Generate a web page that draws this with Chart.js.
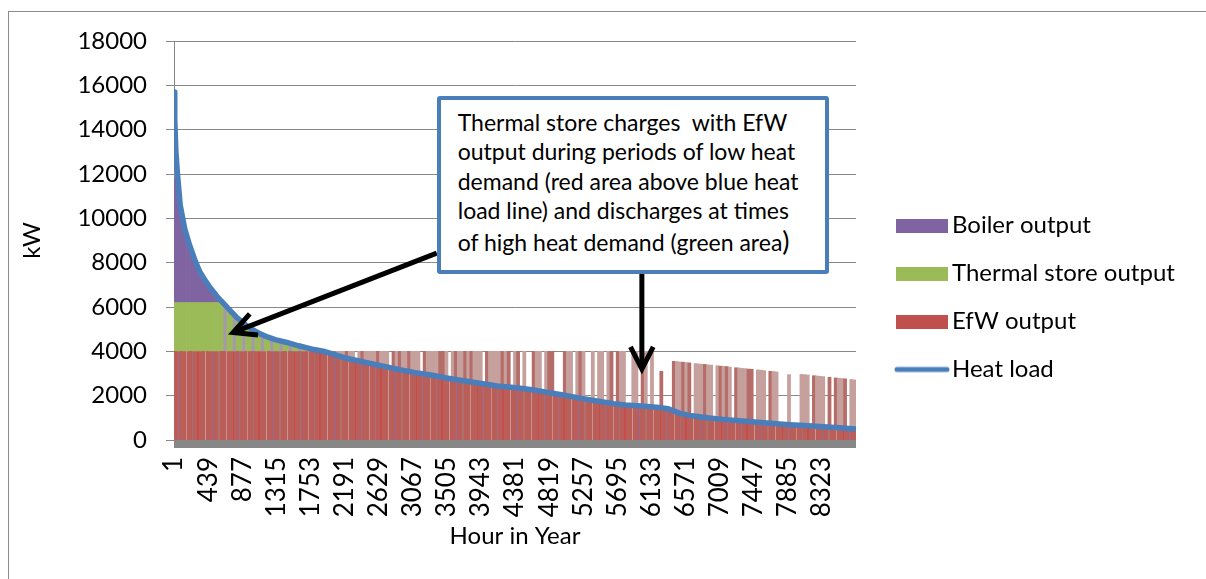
<!DOCTYPE html>
<html>
<head>
<meta charset="utf-8">
<title>Heat load duration curve</title>
<script src="https://cdn.jsdelivr.net/npm/chart.js@4.4.1/dist/chart.umd.min.js"></script>
<style>
  html, body { margin: 0; padding: 0; width: 1206px; height: 579px; overflow: hidden; background: #fff; }
  #frame { position: absolute; left: 8px; top: 11px; width: 1300px; height: 700px; border: 1px solid #8c8c8c; }
  #wrap { position: absolute; left: 0; top: 0; width: 1206px; height: 579px; }
  #callout {
    position: absolute; display: none; box-sizing: border-box;
    border: 4px solid #4a7ebb; border-radius: 3px; background: #fff;
    font-family: Lato, sans-serif; font-size: 23px; line-height: 29.5px; color: #000;
    padding: 8px 0 0 17px; white-space: pre;
  }
  #callout .last { margin-top: 2px; }
  #callout .paren { font-size: 27px; line-height: 20px; }
</style>
</head>
<body>
<div id="frame"></div>
<div id="wrap"><canvas id="chart" width="1206" height="579"></canvas></div>
<div id="callout"><div>Thermal store charges  with EfW</div><div>output during periods of low heat</div><div>demand (red area above blue heat</div><div>load line) and discharges at times</div><div class="last">of high heat demand (green area<span class="paren">)</span></div></div>
<script>
// ---- Data (kW, hours of the year sorted by descending heat load) ----

// Hour labels shown on the horizontal axis
const tickHours = [1, 439, 877, 1315, 1753, 2191, 2629, 3067, 3505, 3943,
                   4381, 4819, 5257, 5695, 6133, 6571, 7009, 7447, 7885, 8323];

// Heat load duration curve
const loadHours = [1, 10, 25, 45, 80, 140, 200, 260, 330, 400,
                   480, 560, 640, 720, 800, 900, 1000, 1100, 1200, 1300,
                   1450, 1600, 1800, 1950, 2200, 2450, 2700, 2900, 3100, 3300,
                   3500, 3720, 3950, 4150, 4400, 4600, 4800, 5000, 5200, 5430,
                   5650, 5800, 6000, 6200, 6350, 6500, 6650, 6850, 7050, 7300,
                   7500, 7700, 7900, 8100, 8340, 8550, 8760];
const heatLoad = [15700, 14500, 13000, 12000, 10600, 9500, 8800, 8200, 7600, 7200,
                  6800, 6450, 6150, 5850, 5550, 5250, 5000, 4800, 4650, 4530,
                  4400, 4250, 4080, 3980, 3700, 3510, 3320, 3170, 3040, 2930,
                  2800, 2675, 2550, 2435, 2360, 2270, 2150, 2030, 1900, 1760,
                  1640, 1580, 1530, 1475, 1410, 1200, 1090, 1000, 930, 860,
                  800, 745, 690, 650, 600, 555, 500];

// EfW output that goes straight to the heat load (same hours as above)
const efwToLoad = [4000, 4000, 4000, 4000, 4000, 4000, 4000, 4000, 4000, 4000,
                   4000, 4000, 4000, 4000, 4000, 4000, 4000, 4000, 4000, 4000,
                   4000, 4000, 4000, 3980, 3700, 3510, 3320, 3170, 3040, 2930,
                   2800, 2675, 2550, 2435, 2360, 2270, 2150, 2030, 1900, 1760,
                   1640, 1580, 1530, 1475, 1410, 1200, 1090, 1000, 930, 860,
                   800, 745, 690, 650, 600, 555, 500];

// Hourly outputs, one bar every 40 hours
const barHours = Array.from({ length: 219 }, (_, i) => 20 + 40 * i);

// EfW output (null where it simply follows the heat load)
const efwOutput = [
  4000, 4000, 4000, 4000, 4000, 4000, 4000, 4000, 4000, 4000,
  4000, 4000, 4000, 4000, 4000, 4000, 4000, 4000, 4000, 4000,
  4000, 4000, 4000, 4000, 4000, 4000, 4000, 4000, 4000, 4000,
  4000, 4000, 4000, 4000, 4000, 4000, 4000, 4000, 4000, 4000,
  4000, 4000, 4000, 4000, 4000, 4000, 4000, 4000, 4000, 4000,
  4000, 4000, 4000, 4000, 4000, 4000, 4000, 4000, null, 4000,
  4000, 4000, 4000, 4000, 4000, 4000, 4000, 4000, 4000, null,
  4000, 4000, 4000, 4000, 4000, 4000, 4000, 4000, 4000, null,
  4000, 4000, 4000, 4000, 4000, 4000, 4000, 4000, null, 4000,
  4000, 4000, 4000, 4000, 4000, 4000, 4000, 4000, 4000, null,
  4000, 4000, 4000, 4000, 4000, 4000, 4000, 4000, null, 4000,
  4000, null, 4000, null, null, 4000, 4000, 4000, null, 4000,
  4000, 4000, null, null, null, 4000, 4000, 4000, null, 4000,
  4000, 4000, null, null, 4000, null, 4000, 4000, null, 4000,
  4000, null, 4000, 4000, 4000, null, null, 4000, 4000, null,
  4000, 4000, null, 4000, null, null, 3100, null, null, null,
  3550, 3540, 3520, 3510, 3490, 3480, null, 3450, 3430, 3420,
  3410, 3390, 3380, null, 3350, 3330, 3320, 3310, 3290, null,
  3260, 3250, 3230, 3220, 3200, 3190, null, 3160, 3150, 3130,
  null, 3100, 3090, 3070, null, null, null, 2950, null, null,
  null, 2960, 2950, 2930, null, 2900, 2890, 2870, 2860, null,
  2830, null, 2800, 2790, 2770, 2760, null, 2730, 2710
];

// Thermal store discharge (first bars only)
const storeOutput = [
  2200, 2200, 2200, 2200, 2200, 2200, 2200, 2200, 2200, 2200,
  2200, 2200, 2200, 2200, 2200, 2200, 2080, 1930, 1780, 1630,
  1490, 1370, 1250, 1150, 1050, 960, 880, 800, 740, 680,
  630, 580, 530, 495, 460, 425, 390, 350, 310, 270,
  240, 200, 160, 120, 90, 60, 40
];

// Peak boiler output (first bars only)
const boilerOutput = [5600, 5200, 4030, 3300, 2830, 2400, 2000, 1660, 1340, 1110,
                      900, 700, 510, 340, 180, 30];

// ---- Chart ----
Chart.defaults.font.family = 'Lato';
Chart.defaults.font.size = 24;
Chart.defaults.color = '#000';

const PLOT_LEFT = 174, PLOT_RIGHT = 856;
const GRID = '#888888';

// Vertical hatch texture for the dense hourly bars
function stripes(base, marks, width) {
  const c = document.createElement('canvas');
  c.width = width; c.height = 4;
  const g = c.getContext('2d');
  g.fillStyle = base; g.fillRect(0, 0, width, 4);
  marks.forEach(([x, w, col]) => { g.fillStyle = col; g.fillRect(x, 0, w, 4); });
  return g.createPattern(c, 'repeat');
}

const COLORS = {
  boiler: '#8064a2',
  store: '#9bbb59',
  storeStreak: 'rgb(166,152,172)',
  efw: '#c0504d',
  efwFill: stripes('rgb(186,94,90)', [
    [3, 1, 'rgb(202,140,136)'], [9, 1, 'rgb(168,108,122)'], [14, 2, 'rgb(196,78,74)'],
    [22, 1, 'rgb(204,150,146)'], [29, 1, 'rgb(150,106,150)'], [35, 2, 'rgb(176,112,108)'],
    [43, 1, 'rgb(205,145,140)'], [50, 1, 'rgb(196,78,74)'], [56, 1, 'rgb(160,108,140)']
  ], 61),
  efwCharge: 'rgb(197,160,156)',
  efwChargeStreak: 'rgb(182,108,104)',
  load: '#4a7ebb'
};

const pts = (xs, ys) => ys.map((v, i) => ({ x: xs[i], y: v }));

// Legend swatches: wide rectangle or thick line, offset so text sits close to the swatch
function swatch(color, kind) {
  const c = document.createElement('canvas');
  c.width = 80; c.height = 14;
  const g = c.getContext('2d');
  if (kind === 'line') {
    g.strokeStyle = color; g.lineWidth = 5; g.lineCap = 'round';
    g.beginPath(); g.moveTo(27, 7); g.lineTo(77, 7); g.stroke();
  } else {
    g.fillStyle = color; g.fillRect(26, 0, 52, 14);
  }
  return c;
}
const legendEntries = [
  { text: 'Boiler output', style: swatch(COLORS.boiler, 'rect') },
  { text: 'Thermal store output', style: swatch(COLORS.store, 'rect') },
  { text: 'EfW output', style: swatch(COLORS.efw, 'rect') },
  { text: 'Heat load', style: swatch(COLORS.load, 'line') }
];

// Gray band under the hour axis (dense tick marks)
const axisBand = {
  id: 'axisBand',
  afterDatasetsDraw(chart) {
    const { ctx, chartArea: { left, right, bottom } } = chart;
    ctx.save();
    ctx.fillStyle = '#878787';
    ctx.fillRect(left, bottom, right - left, 8);
    ctx.restore();
  }
};

// Explanatory callout and its arrows, anchored in data units
const calloutBox = { fromHour: 3375, toHour: 8410, topKW: 15540, bottomKW: 7500 };
const calloutArrows = [
  { tail: { hour: 3375, kW: 8430 }, tip: { hour: 760, kW: 4850 } },
  { tail: { hour: 6010, kW: 7500 }, tip: { hour: 6010, kW: 3200 } }
];
const callout = {
  id: 'callout',
  afterDraw(chart) {
    const { ctx, scales: { x, y } } = chart;
    const px = p => [x.getPixelForValue(p.hour), y.getPixelForValue(p.kW)];
    ctx.save();
    ctx.strokeStyle = '#000';
    ctx.lineWidth = 5;
    ctx.lineJoin = 'miter';
    ctx.lineCap = 'butt';
    calloutArrows.forEach(a => {
      const [x0, y0] = px(a.tail), [x1, y1] = px(a.tip);
      const ang = Math.atan2(y0 - y1, x0 - x1);
      const len = 25, spread = 27 * Math.PI / 180;
      ctx.beginPath();
      ctx.moveTo(x0, y0);
      ctx.lineTo(x1 + Math.cos(ang) * 3, y1 + Math.sin(ang) * 3);
      ctx.stroke();
      ctx.beginPath();
      ctx.moveTo(x1 + Math.cos(ang - spread) * len, y1 + Math.sin(ang - spread) * len);
      ctx.lineTo(x1, y1);
      ctx.lineTo(x1 + Math.cos(ang + spread) * len, y1 + Math.sin(ang + spread) * len);
      ctx.stroke();
    });
    ctx.restore();
    const l = x.getPixelForValue(calloutBox.fromHour), r = x.getPixelForValue(calloutBox.toHour);
    const t = y.getPixelForValue(calloutBox.topKW), b = y.getPixelForValue(calloutBox.bottomKW);
    Object.assign(document.getElementById('callout').style, {
      left: l + 'px', top: t + 'px', width: (r - l) + 'px', height: (b - t) + 'px', display: 'block'
    });
  }
};

const chargeColor = c => {
  const i = c.dataIndex;
  return (i % 7 === 2 || i % 5 === 0) ? COLORS.efwChargeStreak : COLORS.efwCharge;
};

const chart = new Chart(document.getElementById('chart'), {
  type: 'bar',
  data: {
    datasets: [
      {
        type: 'line', label: 'Heat load', data: pts(loadHours, heatLoad),
        borderColor: COLORS.load, borderWidth: 5.5, borderCapStyle: 'round', borderJoinStyle: 'round',
        pointRadius: 0, fill: false, tension: 0, order: 0, stack: 'load'
      },
      {
        type: 'line', label: 'EfW output to load', data: pts(loadHours, efwToLoad),
        borderColor: 'rgba(0,0,0,0)', borderWidth: 0, backgroundColor: COLORS.efwFill,
        pointRadius: 0, fill: 'origin', tension: 0, order: 1, stack: 'efwLoad'
      },
      {
        label: 'EfW output', data: pts(barHours, efwOutput),
        backgroundColor: chargeColor,
        order: 2, stack: 'gen'
      },
      {
        label: 'Thermal store output', data: pts(barHours, storeOutput),
        backgroundColor: c => (c.dataIndex >= 16 && c.dataIndex % 3 === 1 ? COLORS.storeStreak : COLORS.store),
        order: 3, stack: 'gen'
      },
      {
        label: 'Boiler output', data: pts(barHours, boilerOutput),
        backgroundColor: COLORS.boiler, order: 4, stack: 'gen'
      }
    ]
  },
  options: {
    responsive: false,
    animation: false,
    devicePixelRatio: 1,
    layout: { padding: { left: 8, top: 41, right: 0, bottom: 25 } },
    datasets: { bar: { barPercentage: 1, categoryPercentage: 1, borderWidth: 0, grouped: false } },
    plugins: {
      tooltip: { enabled: false },
      legend: {
        position: 'right',
        align: 'center',
        maxWidth: 420,
        labels: {
          usePointStyle: true,
          pointStyleWidth: 60,
          boxWidth: 60,
          boxHeight: 14,
          padding: 24,
          font: { size: 24 },
          generateLabels: () => legendEntries.map(e => ({
            text: e.text, pointStyle: e.style, hidden: false, lineWidth: 0,
            fillStyle: 'rgba(0,0,0,0)', strokeStyle: 'rgba(0,0,0,0)'
          }))
        },
        onClick: () => {}
      }
    },
    scales: {
      x: {
        type: 'linear',
        offset: false,
        stacked: true,
        min: 0.5,
        max: 8760.5,
        afterBuildTicks: s => { s.ticks = tickHours.map(v => ({ value: v })); },
        afterFit: s => { s.height = 114; },
        grid: { drawOnChartArea: false, drawTicks: true, tickLength: 8, color: GRID, offset: false },
        border: { display: false },
        ticks: {
          autoSkip: false, minRotation: 90, maxRotation: 90, padding: 9,
          font: { size: 26 }, callback: v => String(v)
        },
        title: { display: true, text: 'Hour in Year', font: { size: 24 }, padding: { top: 0, bottom: 3 } }
      },
      y: {
        stacked: true,
        min: 0,
        max: 18000,
        afterFit: s => { s.width = PLOT_LEFT - 8; },
        grid: { color: GRID, lineWidth: 1, drawTicks: true, tickLength: 8, tickColor: GRID },
        border: { display: true, color: GRID, width: 1 },
        ticks: { stepSize: 2000, padding: 19, font: { size: 24 }, callback: v => String(v) },
        title: { display: true, text: 'kW', font: { size: 24 }, padding: { top: 10, bottom: 0 } }
      }
    }
  },
  plugins: [axisBand, callout]
});

// Pin the plot's right edge so the legend sits beside it
const dr = chart.chartArea.right - PLOT_RIGHT;
if (Math.abs(dr) > 0.1) {
  chart.options.layout.padding.right = Math.max(0, chart.options.layout.padding.right + dr);
  chart.update();
}
</script>
</body>
</html>
